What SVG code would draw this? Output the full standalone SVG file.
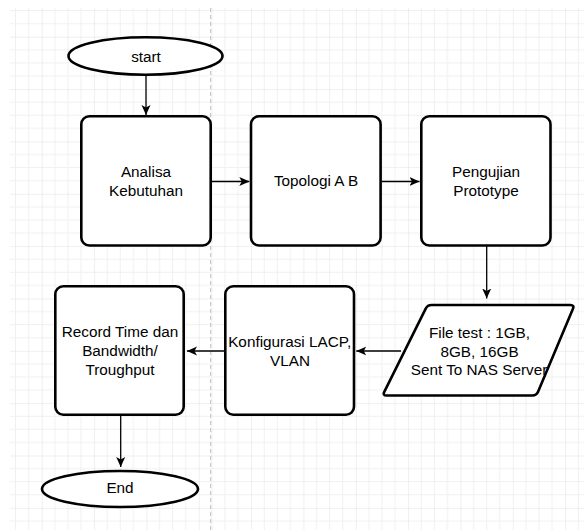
<svg xmlns="http://www.w3.org/2000/svg" width="584" height="530" viewBox="0 0 584 530">
  <defs>
    <pattern id="grid" patternUnits="userSpaceOnUse" x="41.7" y="36.7" width="52.35" height="52.35">
      <rect x="12.6" y="0" width="1" height="52.35" fill="#f0f0f0"/>
      <rect x="25.7" y="0" width="1" height="52.35" fill="#f0f0f0"/>
      <rect x="38.8" y="0" width="1" height="52.35" fill="#f0f0f0"/>
      <rect x="0" y="12.6" width="52.35" height="1" fill="#f0f0f0"/>
      <rect x="0" y="25.7" width="52.35" height="1" fill="#f0f0f0"/>
      <rect x="0" y="38.8" width="52.35" height="1" fill="#f0f0f0"/>
      <rect x="-0.5" y="0" width="1" height="52.35" fill="#e0e0e0"/>
      <rect x="0" y="-0.5" width="52.35" height="1" fill="#e0e0e0"/>
    </pattern>
    <marker id="arrow" markerUnits="userSpaceOnUse" viewBox="0 0 10 10" refX="10" refY="5" markerWidth="10" markerHeight="10" orient="auto">
      <path d="M0,0.5 L10,5 L0,9.5 L2.5,5 Z" fill="#000"/>
    </marker>
  </defs>
  <style>
    .shape { fill: #fff; stroke: #000; stroke-width: 2.6; stroke-linejoin: round; }
    .conn { fill: none; stroke: #000; stroke-width: 1.3; marker-end: url(#arrow); }
    .label { font-family: "Liberation Sans", Arial, sans-serif; font-size: 15.3px; fill: #000; text-anchor: middle; }
  </style>
  <rect x="0" y="0" width="584" height="530" fill="#fff"/>
  <rect x="10" y="8" width="574" height="522" fill="url(#grid)"/>
  <line x1="210.7" y1="8" x2="210.7" y2="530" stroke="#bdbdbd" stroke-width="1" stroke-dasharray="4 3"/>

  <g id="connectors">
    <path class="conn" d="M146,76 L146,115"/>
    <path class="conn" d="M212,181.5 L249.3,181.5"/>
    <path class="conn" d="M382,181.5 L419.5,181.5"/>
    <path class="conn" d="M486.7,246 L486.7,298.5"/>
    <path class="conn" d="M401,351 L356.3,351"/>
    <path class="conn" d="M224,351 L187,351"/>
    <path class="conn" d="M120.7,416 L120.7,467"/>
  </g>

  <g id="start">
    <ellipse class="shape" cx="145.5" cy="56" rx="77" ry="18.7"/>
    <text class="label" x="146" y="62">start</text>
  </g>
  <g id="analisa">
    <rect class="shape" x="81.3" y="116.3" width="129.4" height="129.2" rx="8"/>
    <text class="label" x="146" y="176.7">Analisa</text>
    <text class="label" x="146" y="196">Kebutuhan</text>
  </g>
  <g id="topologi">
    <rect class="shape" x="251" y="116.3" width="129.6" height="129.2" rx="8"/>
    <text class="label" x="316" y="186">Topologi A B</text>
  </g>
  <g id="pengujian">
    <rect class="shape" x="421.3" y="116.3" width="129.2" height="129.2" rx="8"/>
    <text class="label" x="486" y="176.7">Pengujian</text>
    <text class="label" x="486" y="196">Prototype</text>
  </g>
  <g id="filetest">
    <path class="shape" d="M431.5,305 L570.5,305 Q574.5,305 572.95,308.69 L538.05,391.81 Q536.5,395.5 532.5,395.5 L386.5,395.5 Q382.5,395.5 384.28,391.92 L425.72,308.58 Q427.5,305 431.5,305 Z"/>
    <text class="label" x="479.5" y="338.3">File test : 1GB,</text>
    <text class="label" x="479.5" y="356.7">8GB, 16GB</text>
    <text class="label" x="479" y="375">Sent To NAS Server</text>
  </g>
  <g id="konfigurasi">
    <rect class="shape" x="225.3" y="286.3" width="128.7" height="128.4" rx="8"/>
    <text class="label" x="289.7" y="347.3">Konfigurasi LACP,</text>
    <text class="label" x="290" y="366">VLAN</text>
  </g>
  <g id="record">
    <rect class="shape" x="55.3" y="286.3" width="128.4" height="128.4" rx="8"/>
    <text class="label" x="120" y="337.3">Record Time dan</text>
    <text class="label" x="120" y="356">Bandwidth/</text>
    <text class="label" x="120" y="375">Troughput</text>
  </g>
  <g id="end">
    <ellipse class="shape" cx="120" cy="489" rx="78" ry="18"/>
    <text class="label" x="120" y="493">End</text>
  </g>
</svg>
